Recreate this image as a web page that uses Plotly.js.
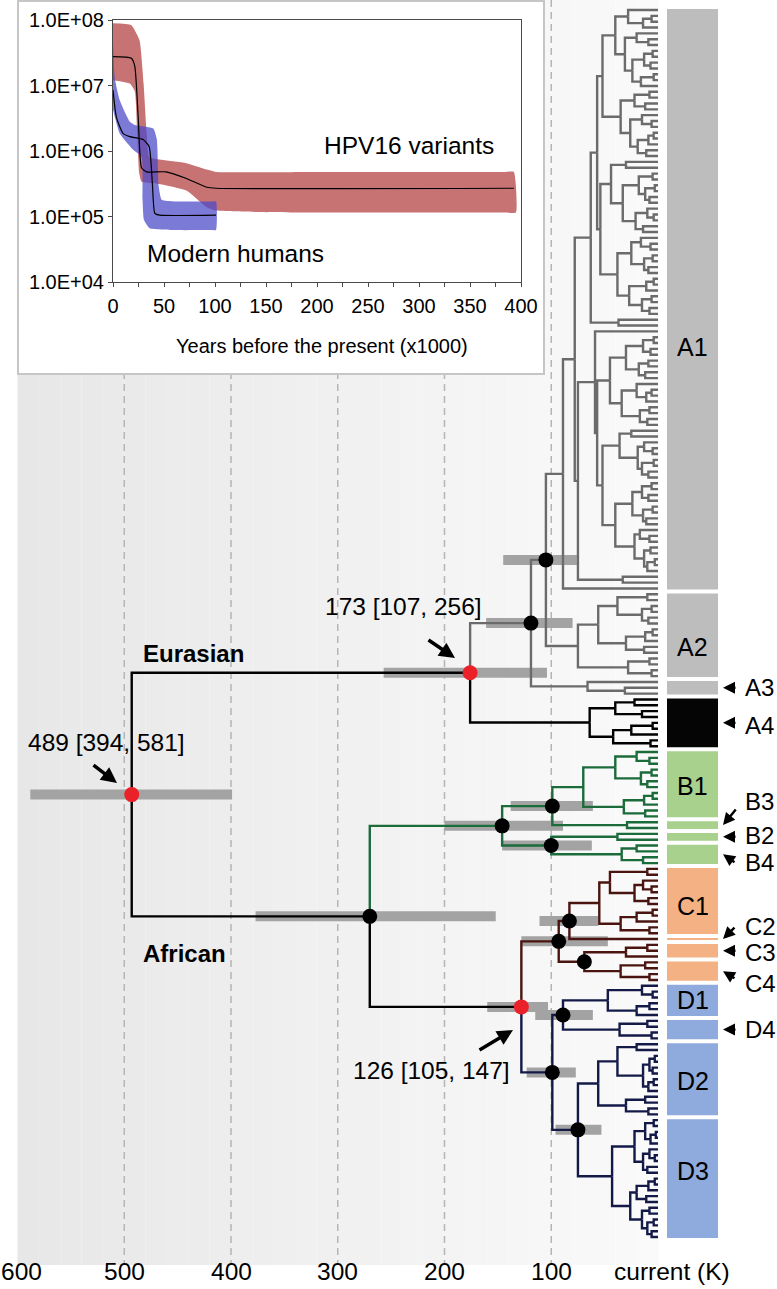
<!DOCTYPE html>
<html>
<head>
<meta charset="utf-8">
<script src="https://cdn.plot.ly/plotly-3.0.1.min.js"></script>
<style>
html,body{margin:0;padding:0;background:#ffffff;overflow:hidden;}
#chart{width:777px;height:1289px;}
</style>
</head>
<body>
<div id="chart"></div>
<script>
// ======================= DATA =======================
// Clades (top to bottom)
const cladeNames = ['A1','A2','A3','A4','B1','B3','B2','B4','C1','C2','C3','C4','D1','D4','D2','D3'];

// Tree topology: nested groups, node age (thousand years) after ')', 'x' = one sampled variant.
// Letter after an age = lineage colour key, ':name' = node id, {NAME} = sub-tree reference.
const treeNames = ['root','A1','a1N2','a1W','a1P','a1Q','a1R','a1S','a1G1','a1G2','a1G3','a1G4','a1G5',
  'A2','A3','A4','B1','B3','B2','B4','C1','C2','C3','C4','D1','D4','D2','D3','d3a','d3b'];
const treeNewick = [
  '(((({A1},{A2})105:nA12,{A3})119a:nA123,{A4}k)176k:nEur,((({B1},{B3})99:nB1,({B2},{B4})100:nB2)146g:nB,((({C1},{C2})83:nC1,({C3},{C4})69:nC2)93c:nC,(({D1},{D4})89:nD1,({D2},{D3})75:nD2)99d:nD)128k:nCD)270k:nAfr)493k:nRoot',
  '(({a1N2},{a1W})78,x)89',
  '((({a1P},{a1Q})52,({a1R},{a1S})54)57,(x,x)37)63',
  '((x,(({a1G1},{a1G2})45,({a1G3},({a1G4},{a1G5})40)52)57)59,(x,x)33)75',
  '((x,((x,x)6,x)14)28,((x,(x,x)9)20,(((x,x)5,(x,x)7)13,((x,x)4,x)16)24)31)40',
  '(((x,x)8,(x,x)12)22,((x,(x,x)6)15,(((x,x)4,x)9,(x,x)11)19)26)35',
  '((x,x)30,(((x,x)5,((x,x)3,(x,x)8)12)18,((x,(x,x)4)10,(x,x)14)21)33)44',
  '(((x,(x,x)7)16,((x,x)5,(x,x)9)13)25,(((x,x)4,x)11,((x,x)6,(x,x)8)15)27)38',
  '(((x,x)4,(x,x)7)14,((x,x)9,(x,x)12)18)30',
  '((x,((x,x)6,x)11)20,((x,x)8,(x,x)10)17)34',
  '((x,x)25,((x,(x,x)5)13,((x,x)4,(x,x)9)15)19)36',
  '(((x,x)6,(x,x)9)15,((x,x)5,(x,x)11)14)24',
  '((x,(x,x)8)17,((x,x)7,((x,x)3,x)10)13)22',
  '((((x,x)10,((x,x)6,(x,x)9)15)38,(((x,x)5,x)12,(x,x)13)30)56,((x,x)8,(x,x)6)28)75',
  '(x,(x,x)31)66',
  '(((x,x)22,(x,x)15)40,(((x,x)5,x)25,(x,x)7)42)64',
  '(((x,(x,x)8)20,((x,x)6,(x,x)10)16)40,(((x,x)5,x)13,(x,x)12)32)70',
  '(x,x)29',
  '(x,x)38',
  '((x,x)20,(x,x)14)34',
  '(((x,x)10,((x,(x,x)6)14,(x,x)9)22)45,(((x,x)5,x)20,(x,x)8)35)55',
  'x',
  '((x,x)10,x)30',
  '((x,x)12,(x,x)8)35',
  '((x,(x,x)5)15,((x,x)8,x)20)47',
  '((x,x)10,(x,x)6)36',
  '(((x,x)20,(((x,x)3,(x,x)5)8,((x,x)4,x)9)14)38,((x,x)12,(x,x)9)30)56',
  '({d3a},{d3b})43',
  '(((x,x)4,((x,x)2,x)7)12,((x,(x,x)3)8,(x,x)10)14)22',
  '((((x,x)3,x)9,(x,x)11)20,((x,x)8,((x,x)4,(x,x)6)10)15)26'
];

// Dated nodes with their 95% HPD bars (thousand years)
const datedNodes = ['nRoot','nEur','nCD','nA12','nA123','nAfr','nB','nB1','nB2','nC','nC1','nC2','nD','nD1','nD2'];
const datedKind  = ['red','red','red','black','black','black','black','black','black','black','black','black','black','black','black'];
const hpdLow  = [399,104,103,76,80,152,89,61,62,47,56,null,77,61,53];
const hpdHigh = [588,257,160,145,161,377,200,138,146,128,111,null,123,115,96];

const nodeLabels = ['489 [394, 581]','173 [107, 256]','126 [105, 147]'];
const lineageLabels = ['Eurasian','African'];
const timeTicks = [600,500,400,300,200,100];
const timeTickText = ['600','500','400','300','200','100'];
const presentLabel = 'current (K)';

// Inset: effective population size through time (x1000 years before present)
const hpvUpperT = [0,18,26,30,33,35.5,46,72,92,101,200,385,393];
const hpvUpperN = [8.9e7,8.3e7,4.9e7,1.07e7,1.86e6,8.1e5,7.4e5,6.5e5,5.2e5,4.8e5,4.8e5,4.8e5,4.8e5];
const hpvLowerT = [0,16.5,21.4,23.7,25.7,28,42.5,72,91.5,101,200,385,395];
const hpvLowerN = [1.2e7,1.07e7,8.1e6,1.86e6,4.6e5,3.4e5,3.2e5,2.5e5,1.4e5,1.23e5,1.15e5,1.15e5,1.15e5];
const hpvMedT = [0,18,21.4,24.7,28,33,52,72,92,101,393];
const hpvMedN = [2.75e7,2.6e7,1.95e7,3.3e6,5.5e5,4.8e5,4.8e5,3.8e5,2.8e5,2.7e5,2.7e5];
const humUpperT = [0,1.6,6.5,16.5,21.4,39.5,43,44.8,47.7,60,96,101];
const humUpperN = [4.4e7,1.35e7,6.0e6,2.8e6,2.5e6,2.2e6,1.5e6,2.9e5,1.8e5,1.7e5,1.7e5,1.7e5];
const humLowerT = [0,6.5,19.5,28,29,30.3,36,60,96,101];
const humLowerN = [4.3e6,1.86e6,1.05e6,8.1e5,1.8e5,8.9e4,6.6e4,6.2e4,6.2e4,6.2e4];
const humMedT = [0,3.3,9.8,16.5,29.5,35.4,38.6,41,46,101];
const humMedN = [8.5e6,3.3e6,1.86e6,1.66e6,1.5e6,1.17e6,3.2e5,1.12e5,1.05e5,1.05e5];
const insetXTicks = [0,25,50,75,100,125,150,175,200,225,250,275,300,325,350,375,400];
const insetXTickText = ['0','','50','','100','','150','','200','','250','','300','','350','','400'];
const insetYTicks = [1e4,1e5,1e6,1e7,1e8];
const insetYTickText = ['1.0E+04','1.0E+05','1.0E+06','1.0E+07','1.0E+08'];
const insetSeriesLabels = ['HPV16 variants','Modern humans'];
const insetTitle = 'Years before the present (x1000)';

// ======================= STYLE =======================
const FONT = 'Liberation Sans, Arial, Helvetica, sans-serif';
const W = 777, H = 1289;
const lineColors = {a:'#6b6b6b', k:'#000000', g:'#1b6b3b', c:'#4a1510', d:'#141a48'};
const cladeBarColors = ['#bdbdbd','#bdbdbd','#bdbdbd','#050505','#a9d18e','#a9d18e','#a9d18e','#a9d18e',
  '#f4b183','#f4b183','#f4b183','#f4b183','#8faadc','#8faadc','#8faadc','#8faadc'];
// inside labels: [clade, vertical shift px (positive = up)]
const insideLabels = [['A1',-48],['A2',-12],['B1',-2],['C1',-5],['D1',0],['D2',-2],['D3',8]];
// outside labels: [clade, label y shift px, arrow tail dx, arrow tail dy]
const outsideLabels = [['A3',0,14,0],['A4',-3,14,0],['B3',24,14,-17],['B2',1,14,0],['B4',-8,13,9],
  ['C2',13,13,-13],['C3',-2,14,0],['C4',-12,13,8],['D4',0,14,0]];

// ======================= TREE BUILD =======================
function resolve(name) {
  const s = treeNewick[treeNames.indexOf(name)];
  return s.replace(/\{(\w+)\}/g, (m, n) => resolve(n));
}
function parseTree(str) {
  let pos = 0;
  function node() {
    const nd = {children: [], age: 0, color: null, label: null};
    if (str[pos] === '(') {
      pos++;
      nd.children.push(node());
      while (str[pos] === ',') { pos++; nd.children.push(node()); }
      pos++; // ')'
      const m = /^[0-9.]+/.exec(str.slice(pos));
      if (m) { nd.age = parseFloat(m[0]); pos += m[0].length; }
      if (str[pos] && 'akgcd'.indexOf(str[pos]) >= 0) { nd.color = str[pos]; pos++; }
      if (str[pos] === ':') { pos++; const m2 = /^[A-Za-z0-9]+/.exec(str.slice(pos)); nd.label = m2[0]; pos += m2[0].length; }
    } else { pos++; } // leaf 'x'
    return nd;
  }
  return node();
}
const tree = parseTree(resolve('root'));
let leafIdx = 0;
const byLabel = {};
(function layoutTree(nd, col) {
  nd.color = nd.color || col;
  if (nd.label) byLabel[nd.label] = nd;
  if (!nd.children.length) { nd.y = leafIdx++; return; }
  nd.children.forEach(c => layoutTree(c, nd.color));
  nd.y = (nd.children[0].y + nd.children[nd.children.length - 1].y) / 2;
})(tree, 'k');

const segs = {};
(function walk(nd, parent) {
  if (parent) {
    const s = segs[nd.color] || (segs[nd.color] = {x: [], y: []});
    s.x.push(parent.age, parent.age, nd.age, null);
    s.y.push(parent.y, nd.y, nd.y, null);
  }
  nd.children.forEach(c => walk(c, nd));
})(tree, null);

// clade leaf ranges
const cladeStart = [], cladeEnd = [];
let acc = 0;
cladeNames.forEach(n => {
  const cnt = (resolve(n).match(/x/g) || []).length;
  cladeStart.push(acc); cladeEnd.push(acc + cnt - 1); acc += cnt;
});

// ======================= AXIS GEOMETRY =======================
// main x: pixel = 658 - 1.0675*age ; main y: pixel = 10 + 5.843*leafIndex
const xr = [658 / 1.0675, (658 - W) / 1.0675];
const yr = [(H - 10) / 5.843, -10 / 5.843];
const pxToAge = px => (658 - px) / 1.0675;
const pxToIdx = p => (p - 10) / 5.843;
const py = v => 1 - v / H;
const pxp = v => v / W;

// ======================= TRACES =======================
const traces = [];
// cover subplot dummy
traces.push({type: 'scatter', x: [0.5], y: [0.5], xaxis: 'x2', yaxis: 'y2', mode: 'markers',
  marker: {opacity: 0}, hoverinfo: 'skip'});

// inset bands
traces.push({type: 'scatter', xaxis: 'x3', yaxis: 'y3', mode: 'lines', fill: 'toself',
  x: hpvUpperT.concat(hpvLowerT.slice().reverse()), y: hpvUpperN.concat(hpvLowerN.slice().reverse()),
  fillcolor: '#c87373', line: {width: 0, color: '#c87373', shape: 'spline', smoothing: 0.45}, hoverinfo: 'skip'});
traces.push({type: 'scatter', xaxis: 'x3', yaxis: 'y3', mode: 'lines', fill: 'toself',
  x: humUpperT.concat(humLowerT.slice().reverse()), y: humUpperN.concat(humLowerN.slice().reverse()),
  fillcolor: 'rgba(72,72,200,0.72)', line: {width: 0, color: 'rgba(72,72,200,0.72)', shape: 'spline', smoothing: 0.45}, hoverinfo: 'skip'});
traces.push({type: 'scatter', xaxis: 'x3', yaxis: 'y3', mode: 'lines', x: hpvMedT, y: hpvMedN,
  line: {width: 1.2, color: '#000', shape: 'spline', smoothing: 0.5}, hoverinfo: 'skip'});
traces.push({type: 'scatter', xaxis: 'x3', yaxis: 'y3', mode: 'lines', x: humMedT, y: humMedN,
  line: {width: 1.2, color: '#000', shape: 'spline', smoothing: 0.5}, hoverinfo: 'skip'});

// HPD bars
const hx = [], hy = [];
datedNodes.forEach((n, i) => {
  if (hpdLow[i] == null) return;
  const nd = byLabel[n];
  hx.push(hpdHigh[i], hpdLow[i], null); hy.push(nd.y, nd.y, null);
});
traces.push({type: 'scatter', x: hx, y: hy, mode: 'lines', line: {color: '#a3a3a3', width: 10}, hoverinfo: 'skip'});

// tree branches
Object.keys(segs).forEach(k => {
  traces.push({type: 'scatter', x: segs[k].x, y: segs[k].y, mode: 'lines',
    line: {color: lineColors[k], width: 2.4}, hoverinfo: 'skip'});
});

// node dots
['black', 'red'].forEach(kind => {
  const mx = [], my = [];
  datedNodes.forEach((n, i) => { if (datedKind[i] === kind) { mx.push(byLabel[n].age); my.push(byLabel[n].y); } });
  traces.push({type: 'scatter', x: mx, y: my, mode: 'markers', cliponaxis: false,
    marker: {size: 15, color: kind === 'red' ? '#ea2129' : '#000000', line: {width: 0}}, hoverinfo: 'skip'});
});

// ======================= SHAPES =======================
const shapes = [];
const yTop = -10 / 5.843, yBottom = pxToIdx(1265);
const nb = 30;
for (let k = 0; k < nb; k++) {
  const a0 = 600 - k * 20, a1 = (k === nb - 1) ? -0.5 : 600 - (k + 1) * 20;
  const g = Math.round(231 + (250 - 231) * (k + 0.5) / nb);
  shapes.push({type: 'rect', xref: 'x', yref: 'y', x0: a0, x1: a1, y0: yTop, y1: yBottom,
    fillcolor: `rgb(${g},${g},${g})`, line: {width: 0}, layer: 'below'});
}
timeTicks.filter(t => t < 600).forEach(t => {
  shapes.push({type: 'line', xref: 'x', yref: 'y', x0: t, x1: t, y0: yTop, y1: yBottom,
    line: {color: '#b5b5b5', width: 1.5, dash: '7px,5px'}, layer: 'below'});
});
const gap = 2 / 5.843;
cladeNames.forEach((n, i) => {
  shapes.push({type: 'rect', xref: 'x', yref: 'y', x0: pxToAge(667), x1: pxToAge(718),
    y0: cladeStart[i] - 0.5 + gap, y1: cladeEnd[i] + 0.5 - gap,
    fillcolor: cladeBarColors[i], line: {width: 0}, layer: 'below'});
});
// inset white panel (drawn in cover subplot, above the tree background)
shapes.push({type: 'rect', xref: 'x2', yref: 'y2', x0: 0, x1: 1, y0: 0, y1: 1,
  fillcolor: '#ffffff', line: {color: '#c6c6c6', width: 4}, layer: 'below'});

// ======================= ANNOTATIONS =======================
const ann = [];
const big = {family: FONT, size: 24.5, color: '#000'};
const lab = {family: FONT, size: 24, color: '#000'};
// time axis labels
timeTicks.forEach((t, i) => ann.push({xref: 'x', yref: 'paper', x: t, y: py(1271), text: timeTickText[i],
  xshift: t === 600 ? 4 : 0, showarrow: false, xanchor: 'center', yanchor: 'middle', font: big}));
ann.push({xref: 'x', yref: 'paper', x: pxToAge(672), y: py(1271), text: presentLabel, showarrow: false,
  xanchor: 'center', yanchor: 'middle', font: big});
// clade labels
const cladeCenter = i => (cladeStart[i] + cladeEnd[i]) / 2;
insideLabels.forEach(([n, dy]) => {
  const i = cladeNames.indexOf(n);
  ann.push({xref: 'x', yref: 'y', x: pxToAge(692.5), y: cladeCenter(i), yshift: dy, text: n, showarrow: false,
    xanchor: 'center', yanchor: 'middle', font: {family: FONT, size: 25, color: '#000'}});
});
outsideLabels.forEach(([n, dy, ax, ay]) => {
  const i = cladeNames.indexOf(n);
  ann.push({xref: 'x', yref: 'y', x: pxToAge(743), y: cladeCenter(i), yshift: dy, text: n, showarrow: false,
    xanchor: 'left', yanchor: 'middle', font: lab});
  ann.push({xref: 'x', yref: 'y', x: pxToAge(723), y: cladeCenter(i), text: '', showarrow: true,
    ax: ax, ay: ay, arrowhead: 2, arrowsize: 1, arrowwidth: 2.4, arrowcolor: '#000', standoff: 0});
});
// node age labels
ann.push({xref: 'paper', yref: 'paper', x: pxp(26), y: py(742), text: nodeLabels[0], showarrow: false,
  xanchor: 'left', yanchor: 'middle', font: big});
ann.push({xref: 'paper', yref: 'paper', x: pxp(117), y: py(783), text: '', showarrow: true, ax: -25, ay: -19,
  arrowhead: 2, arrowsize: 0.9, arrowwidth: 3.5, arrowcolor: '#000', standoff: 0});
ann.push({xref: 'paper', yref: 'paper', x: pxp(323), y: py(606), text: nodeLabels[1], showarrow: false,
  xanchor: 'left', yanchor: 'middle', font: big});
ann.push({xref: 'paper', yref: 'paper', x: pxp(455), y: py(658), text: '', showarrow: true, ax: -28, ay: -19,
  arrowhead: 2, arrowsize: 0.9, arrowwidth: 3.5, arrowcolor: '#000', standoff: 0});
ann.push({xref: 'paper', yref: 'paper', x: pxp(512), y: py(1070), text: nodeLabels[2], showarrow: false,
  xanchor: 'right', yanchor: 'middle', font: big});
ann.push({xref: 'paper', yref: 'paper', x: pxp(513), y: py(1030), text: '', showarrow: true, ax: -35, ay: 21,
  arrowhead: 2, arrowsize: 0.9, arrowwidth: 3.5, arrowcolor: '#000', standoff: 0});
// lineage labels
ann.push({xref: 'paper', yref: 'paper', x: pxp(141), y: py(653), text: '<b>' + lineageLabels[0] + '</b>',
  showarrow: false, xanchor: 'left', yanchor: 'middle', font: {family: FONT, size: 24, color: '#000'}});
ann.push({xref: 'paper', yref: 'paper', x: pxp(141), y: py(953), text: '<b>' + lineageLabels[1] + '</b>',
  showarrow: false, xanchor: 'left', yanchor: 'middle', font: {family: FONT, size: 24, color: '#000'}});
// inset texts
ann.push({xref: 'x3', yref: 'y3', x: 205, y: 6.09, text: insetSeriesLabels[0], showarrow: false,
  xanchor: 'left', yanchor: 'middle', font: big});
ann.push({xref: 'x3', yref: 'y3', x: 31, y: 4.44, text: insetSeriesLabels[1], showarrow: false,
  xanchor: 'left', yanchor: 'middle', font: big});
ann.push({xref: 'paper', yref: 'paper', x: pxp(322), y: py(346), text: insetTitle, showarrow: false,
  xanchor: 'center', yanchor: 'middle', font: {family: FONT, size: 20, color: '#000'}});

// ======================= LAYOUT =======================
const insetAxis = {showline: true, mirror: true, linecolor: '#4a4a4a', linewidth: 1, ticks: 'outside',
  ticklen: 4, tickwidth: 1, tickcolor: '#4a4a4a', showgrid: false, zeroline: false,
  tickfont: {family: FONT, size: 20, color: '#000'}, fixedrange: true};
const layout = {
  width: W, height: H, margin: {l: 0, r: 0, t: 0, b: 0, pad: 0},
  paper_bgcolor: '#ffffff', plot_bgcolor: 'rgba(0,0,0,0)', showlegend: false,
  font: {family: FONT, size: 20, color: '#000'},
  xaxis: {domain: [0, 1], range: xr, visible: false, fixedrange: true},
  yaxis: {domain: [0, 1], range: yr, visible: false, fixedrange: true},
  xaxis2: {domain: [pxp(17), pxp(545)], range: [0, 1], visible: false, anchor: 'y2', fixedrange: true},
  yaxis2: {domain: [py(375), 1], range: [0, 1], visible: false, anchor: 'x2', fixedrange: true},
  xaxis3: Object.assign({}, insetAxis, {domain: [pxp(113), pxp(521)], range: [0, 400], anchor: 'y3',
    tickmode: 'array', tickvals: insetXTicks, ticktext: insetXTickText, ticklabelstandoff: 2}),
  yaxis3: Object.assign({}, insetAxis, {domain: [py(282), py(20)], type: 'log', range: [4, 8], anchor: 'x3',
    tickmode: 'array', tickvals: insetYTicks, ticktext: insetYTickText}),
  shapes: shapes, annotations: ann
};
Plotly.newPlot('chart', traces, layout, {staticPlot: true, displayModeBar: false});
</script>
</body>
</html>
